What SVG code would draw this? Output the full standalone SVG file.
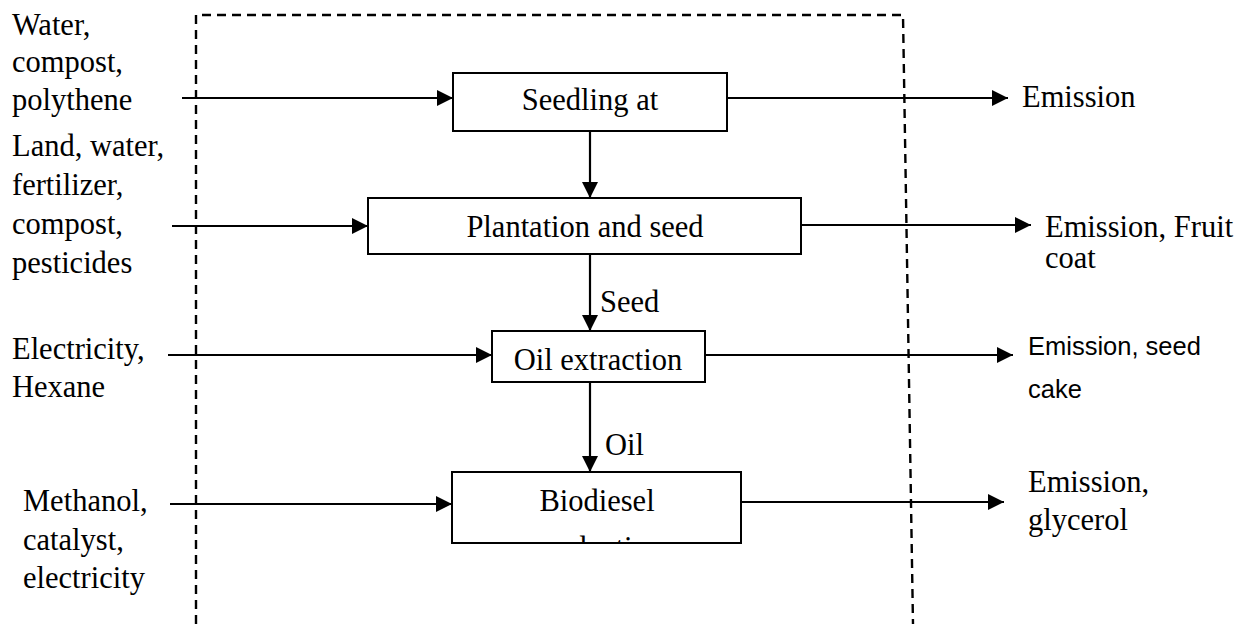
<svg xmlns="http://www.w3.org/2000/svg" width="1253" height="624" viewBox="0 0 1253 624">
<style>
  .box { fill: #ffffff; stroke: #000000; stroke-width: 2; }
  .line { fill: none; stroke: #000000; stroke-width: 2.2; }
  .dash { fill: none; stroke: #000000; stroke-width: 2.4; stroke-dasharray: 9 6; }
  .serif { font-family: "Liberation Serif", "DejaVu Serif", serif; font-size: 30.5px; fill: #000000; }
  .sans { font-family: "Liberation Sans", Arial, sans-serif; font-size: 25.5px; fill: #000000; }
  .mid { text-anchor: middle; }
</style>
<defs>
  <marker id="arrow" markerUnits="userSpaceOnUse" markerWidth="18" markerHeight="18" viewBox="0 0 18 18" refX="16" refY="9" orient="auto">
    <path d="M0,1 L16,9 L0,17 Z" fill="#000000"/>
  </marker>
  <clipPath id="clipBio">
    <rect x="453" y="473" width="287" height="69"/>
  </clipPath>
</defs>
<rect x="0" y="0" width="1253" height="624" fill="#ffffff"/>

<g id="boundary">
  <path class="dash" d="M196,624 V15 H903 L913,624"/>
</g>

<g id="connectors">
  <line class="line" x1="182" y1="98" x2="453" y2="98" marker-end="url(#arrow)"/>
  <line class="line" x1="727" y1="98" x2="1008" y2="98" marker-end="url(#arrow)"/>
  <line class="line" x1="590" y1="131" x2="590" y2="198" marker-end="url(#arrow)"/>
  <line class="line" x1="172" y1="226" x2="368" y2="226" marker-end="url(#arrow)"/>
  <line class="line" x1="801" y1="225" x2="1031" y2="225" marker-end="url(#arrow)"/>
  <line class="line" x1="590" y1="254" x2="590" y2="331" marker-end="url(#arrow)"/>
  <line class="line" x1="168" y1="355" x2="492" y2="355" marker-end="url(#arrow)"/>
  <line class="line" x1="705" y1="355" x2="1013" y2="355" marker-end="url(#arrow)"/>
  <line class="line" x1="590" y1="382" x2="590" y2="472" marker-end="url(#arrow)"/>
  <line class="line" x1="170" y1="504" x2="452" y2="504" marker-end="url(#arrow)"/>
  <line class="line" x1="741" y1="502" x2="1004" y2="502" marker-end="url(#arrow)"/>
  <text class="serif" x="600" y="312">Seed</text>
  <text class="serif" x="605" y="455">Oil</text>
</g>

<g id="seedling">
  <rect class="box" x="453" y="73" width="274" height="58"/>
  <text class="serif mid" x="590" y="110">Seedling at</text>
</g>

<g id="plantation">
  <rect class="box" x="368" y="198" width="433" height="56"/>
  <text class="serif mid" x="585" y="237">Plantation and seed</text>
</g>

<g id="oil-extraction">
  <rect class="box" x="492" y="331" width="213" height="51"/>
  <text class="serif mid" x="598" y="370">Oil extraction</text>
</g>

<g id="biodiesel">
  <rect class="box" x="452" y="472" width="289" height="71"/>
  <g clip-path="url(#clipBio)">
    <text class="serif mid" x="597" y="511">Biodiesel</text>
    <text class="serif mid" x="597" y="558">production</text>
  </g>
</g>

<g id="input-seedling">
  <text class="serif" x="12" y="35">Water,</text>
  <text class="serif" x="12" y="72">compost,</text>
  <text class="serif" x="12" y="110">polythene</text>
</g>

<g id="input-plantation">
  <text class="serif" x="12" y="156">Land, water,</text>
  <text class="serif" x="12" y="195">fertilizer,</text>
  <text class="serif" x="12" y="234">compost,</text>
  <text class="serif" x="12" y="273">pesticides</text>
</g>

<g id="input-oil">
  <text class="serif" x="12" y="359">Electricity,</text>
  <text class="serif" x="12" y="397">Hexane</text>
</g>

<g id="input-biodiesel">
  <text class="serif" x="23" y="511">Methanol,</text>
  <text class="serif" x="23" y="550">catalyst,</text>
  <text class="serif" x="23" y="588">electricity</text>
</g>

<g id="output-seedling">
  <text class="serif" x="1022" y="107">Emission</text>
</g>

<g id="output-plantation">
  <text class="serif" x="1045" y="237">Emission, Fruit</text>
  <text class="serif" x="1045" y="268">coat</text>
</g>

<g id="output-oil">
  <text class="sans" x="1028" y="355">Emission, seed</text>
  <text class="sans" x="1028" y="398">cake</text>
</g>

<g id="output-biodiesel">
  <text class="serif" x="1028" y="492">Emission,</text>
  <text class="serif" x="1028" y="530">glycerol</text>
</g>
</svg>
